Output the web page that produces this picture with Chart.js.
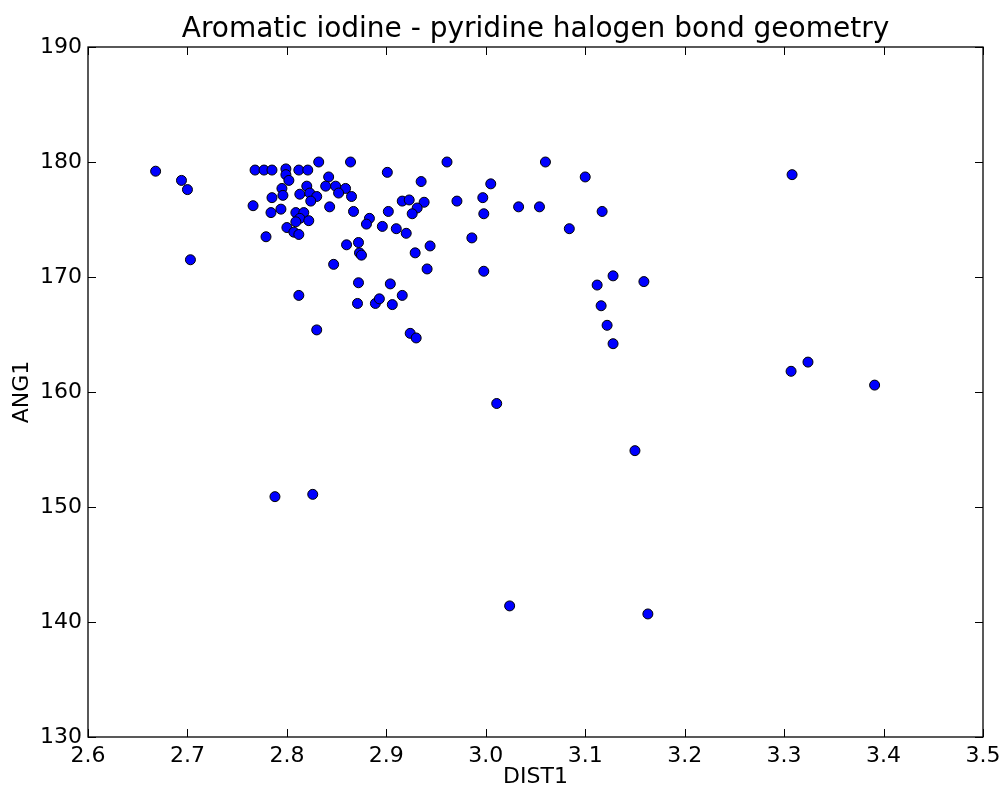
<!DOCTYPE html>
<html>
<head>
<meta charset="utf-8">
<title>Aromatic iodine - pyridine halogen bond geometry</title>
<script src="https://cdn.jsdelivr.net/npm/chart.js@4.4.1/dist/chart.umd.min.js"></script>
<style>
  body { margin: 0; background: #fff; }
  #halogen_chart { display: block; }
</style>
</head>
<body>
<canvas id="halogen_chart" width="1001" height="791"></canvas>
<script>
// data
const chartTitle = 'Aromatic iodine - pyridine halogen bond geometry'
const xTitle = 'DIST1'
const yTitle = 'ANG1'

const dist1 = [
  2.668, 2.694, 2.700, 2.766, 2.768, 2.777, 2.785, 2.799, 2.799, 2.802,
  2.812, 2.821, 2.832, 2.842, 2.839, 2.849, 2.859, 2.852, 2.795, 2.796,
  2.785, 2.820, 2.813, 2.823, 2.830, 2.824, 2.843, 2.784, 2.794, 2.809,
  2.817, 2.813, 2.822, 2.809, 2.800, 2.807, 2.812, 2.779, 2.860, 2.703,
  2.847, 2.812, 2.830, 2.864, 2.865, 2.901, 2.961, 3.060, 2.935, 3.005,
  2.916, 2.923, 2.938, 2.931, 2.926, 2.971, 2.997, 2.998, 3.033, 3.054,
  2.867, 2.902, 2.883, 2.880, 2.896, 2.910, 2.920, 2.986, 2.872, 2.873,
  2.875, 2.944, 2.929, 2.941, 2.998, 2.872, 2.904, 2.916, 2.871, 2.889,
  2.893, 2.906, 2.924, 2.930, 3.100, 3.117, 3.084, 3.128, 3.112, 3.159,
  3.116, 3.122, 3.128, 3.308, 3.307, 3.324, 3.391, 2.788, 2.826, 3.011,
  3.150, 3.024, 3.163
]
const ang1 = [
  179.2, 178.4, 177.6, 176.2, 179.3, 179.3, 179.3, 179.4, 178.9, 178.4,
  179.3, 179.3, 180.0, 178.7, 177.9, 177.9, 177.7, 177.3, 177.7, 177.1,
  176.9, 177.9, 177.2, 177.3, 177.0, 176.6, 176.1, 175.6, 175.9, 175.6,
  175.6, 175.1, 174.9, 174.8, 174.3, 173.9, 173.7, 173.5, 172.8, 171.5,
  171.1, 168.4, 165.4, 180.0, 177.0, 179.1, 180.0, 180.0, 178.3, 178.1,
  176.6, 176.7, 176.5, 176.0, 175.5, 176.6, 176.9, 175.5, 176.1, 176.1,
  175.7, 175.7, 175.1, 174.6, 174.4, 174.2, 173.8, 173.4, 173.0, 172.1,
  171.9, 172.7, 172.1, 170.7, 170.5, 169.5, 169.4, 168.4, 167.7, 167.7,
  168.1, 167.6, 165.1, 164.7, 178.7, 175.7, 174.2, 170.1, 169.3, 169.6,
  167.5, 165.8, 164.2, 178.9, 161.8, 162.6, 160.6, 150.9, 151.1, 159.0,
  154.9, 141.4, 140.7
]

const xMin = 2.6, xMax = 3.5, xStep = 0.1
const yMin = 130, yMax = 190, yStep = 10

var points = []
for (let i = 0; i < dist1.length; i++) {
  points.push({ x: dist1[i], y: ang1[i] })
}

// matplotlib style box with inward ticks on every side
const frameTicks = {
  id: 'frameTicks',
  afterDraw(chart) {
    const c = chart.ctx
    const area = chart.chartArea
    const xs = chart.scales.x
    const ys = chart.scales.y
    const len = 8
    c.save()
    c.strokeStyle = '#000'
    c.lineWidth = 1.3
    c.strokeRect(area.left, area.top, area.right - area.left, area.bottom - area.top)
    c.lineWidth = 1
    c.beginPath()
    xs.ticks.forEach(t => {
      const px = Math.round(xs.getPixelForValue(t.value)) + 0.5
      c.moveTo(px, area.bottom); c.lineTo(px, area.bottom - len)
      c.moveTo(px, area.top); c.lineTo(px, area.top + len)
    })
    ys.ticks.forEach(t => {
      const py = Math.round(ys.getPixelForValue(t.value)) + 0.5
      c.moveTo(area.left, py); c.lineTo(area.left + len, py)
      c.moveTo(area.right, py); c.lineTo(area.right - len, py)
    })
    c.stroke()
    c.restore()
  }
}

const ctx = document.getElementById('halogen_chart').getContext('2d')
const myChart = new Chart(ctx, {
  type: 'scatter',
  data: {
    datasets: [{
      label: 'ANG1 vs DIST1',
      data: points,
      backgroundColor: '#0000ff',
      borderColor: '#000000',
      borderWidth: 1,
      pointRadius: 5,
      pointHoverRadius: 5
    }]
  },
  options: {
    responsive: false,
    animation: false,
    layout: {
      padding: { left: 0, right: 18, top: 0, bottom: 0 }
    },
    plugins: {
      legend: { display: false },
      tooltip: { enabled: false },
      title: {
        display: true,
        fullSize: false,
        text: chartTitle,
        color: '#000',
        font: { family: 'DejaVu Sans', size: 28, weight: 'normal' },
        padding: { top: 13, bottom: 0.4 }
      }
    },
    scales: {
      x: {
        type: 'linear',
        min: xMin,
        max: xMax,
        grid: { display: false, drawTicks: false },
        border: { display: false },
        ticks: {
          stepSize: xStep,
          padding: 6,
          color: '#000',
          font: { family: 'DejaVu Sans', size: 22 },
          maxRotation: 0,
          callback: value => Number(value).toFixed(1)
        },
        title: {
          display: true,
          text: xTitle,
          color: '#000',
          font: { family: 'DejaVu Sans', size: 22 },
          padding: { top: 0, bottom: 1 }
        },
        afterFit: scale => {
          scale.height = 54
          scale.paddingLeft = 0
          scale.paddingRight = 0
        }
      },
      y: {
        type: 'linear',
        min: yMin,
        max: yMax,
        grid: { display: false, drawTicks: false },
        border: { display: false },
        ticks: {
          stepSize: yStep,
          padding: 6,
          color: '#000',
          font: { family: 'DejaVu Sans', size: 22 }
        },
        title: {
          display: true,
          text: yTitle,
          color: '#000',
          font: { family: 'DejaVu Sans', size: 22 },
          padding: { top: 9, bottom: 0 }
        },
        afterFit: scale => {
          scale.width = 88
          scale.paddingTop = 0
          scale.paddingBottom = 0
        }
      }
    }
  },
  plugins: [frameTicks]
})
</script>
</body>
</html>
